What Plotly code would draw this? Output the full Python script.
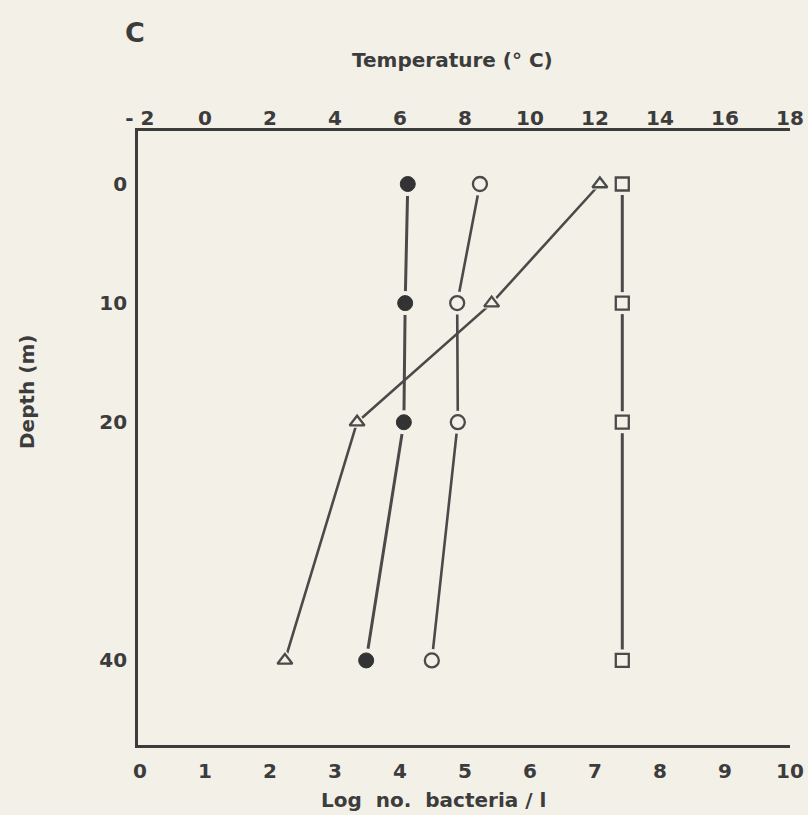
import plotly.graph_objects as go

# ---- data ----
depth = [0, 10, 20, 40]
bact_filled = [4.12, 4.08, 4.06, 3.48]      # filled circles (log no. bacteria / l)
bact_open = [5.23, 4.88, 4.89, 4.49]        # open circles
bact_square = [7.42, 7.42, 7.42, 7.42]      # open squares
temperature = [12.15, 8.82, 4.68, 2.46]     # open triangles (deg C, top axis)

log_ticks = [0, 1, 2, 3, 4, 5, 6, 7, 8, 9, 10]
temp_ticks = [-2, 0, 2, 4, 6, 8, 10, 12, 14, 16, 18]
depth_ticks = [0, 10, 20, 40]

BG = "#f3f0e7"
INK = "#3c3c3c"
GREY = "#4a4a4a"
FONT = "DejaVu Sans"

fig = go.Figure()

def series(x, y, lw, axis="x"):
    fig.add_trace(go.Scatter(x=x, y=y, xaxis=axis, mode="lines",
                             line=dict(color=GREY, width=lw), hoverinfo="skip",
                             showlegend=False))

def halo(x, y, symbol, size, axis="x"):
    fig.add_trace(go.Scatter(x=x, y=y, xaxis=axis, mode="markers",
                             marker=dict(symbol=symbol, size=size + 9, color=BG,
                                         line=dict(width=0)),
                             hoverinfo="skip", showlegend=False))

def marks(x, y, symbol, filled, size, axis="x"):
    fig.add_trace(go.Scatter(x=x, y=y, xaxis=axis, mode="markers",
                             marker=dict(symbol=symbol, size=size,
                                         color="#333333" if filled else BG,
                                         line=dict(color="#333333" if filled else GREY,
                                                   width=1 if filled else 2.3)),
                             showlegend=False))

specs = [
    (bact_filled, "circle", True, 15, 3.0, "x"),
    (bact_open, "circle", False, 14, 2.6, "x"),
    (bact_square, "square", False, 13, 3.0, "x"),
    (temperature, "triangle-up", False, 13, 2.6, "x2"),
]
for xs, sym, f, s, lw, ax in specs:
    series(xs, depth, lw, ax)
for xs, sym, f, s, lw, ax in specs:
    halo(xs, depth, sym, s, ax)
for xs, sym, f, s, lw, ax in specs:
    marks(xs, depth, sym, f, s, ax)

tickfont = dict(family=FONT, size=20, color=INK, weight="bold")
titlefont = dict(family=FONT, size=20, color=INK, weight="bold")

fig.update_layout(
    width=808, height=815,
    margin=dict(l=138, r=18, t=131, b=70),
    paper_bgcolor=BG, plot_bgcolor=BG,
    font=dict(family=FONT, color=INK),
    xaxis=dict(range=[-0.03, 10], tickvals=log_ticks, ticktext=[str(v) for v in log_ticks],
               showgrid=False, zeroline=False, showline=True, linecolor=INK, linewidth=2.6,
               ticks="", tickfont=tickfont, ticklabelstandoff=6, automargin=False),
    xaxis2=dict(range=[-2.06, 18], overlaying="x", side="top", anchor="y",
                tickvals=temp_ticks, ticktext=["- 2"] + [str(v) for v in temp_ticks[1:]],
                showgrid=False, zeroline=False, showline=True, linecolor=INK, linewidth=2.6,
                ticks="", tickfont=tickfont, ticklabelstandoff=-5, automargin=False),
    yaxis=dict(range=[47.1, -4.45], tickvals=depth_ticks, ticktext=[str(v) for v in depth_ticks],
               showgrid=False, zeroline=False, showline=True, linecolor=INK, linewidth=2.6,
               ticks="", tickfont=tickfont, ticklabelstandoff=4, automargin=False),
    annotations=[
        dict(text="C", xref="paper", yref="paper", x=(135 - 138) / 652, y=(745 - 33) / 614,
             showarrow=False, xanchor="center", yanchor="middle",
             font=dict(family=FONT, size=27, color=INK, weight="bold")),
        dict(text="Temperature (° C)", xref="paper", yref="paper", x=(452 - 138) / 652,
             y=(745 - 60) / 614, showarrow=False, xanchor="center", yanchor="middle",
             font=titlefont),
        dict(text="Log  no.  bacteria / l", xref="paper", yref="paper", x=(433 - 138) / 652,
             y=(745 - 800) / 614, showarrow=False, xanchor="center", yanchor="middle",
             font=titlefont),
        dict(text="Depth (m)", xref="paper", yref="paper", x=(27 - 138) / 652,
             y=(745 - 392) / 614, showarrow=False, xanchor="center", yanchor="middle",
             textangle=-90, font=titlefont),
    ],
)

fig.write_html("out.html", config={"displayModeBar": False},
               post_script="document.body.style.margin='0';")
